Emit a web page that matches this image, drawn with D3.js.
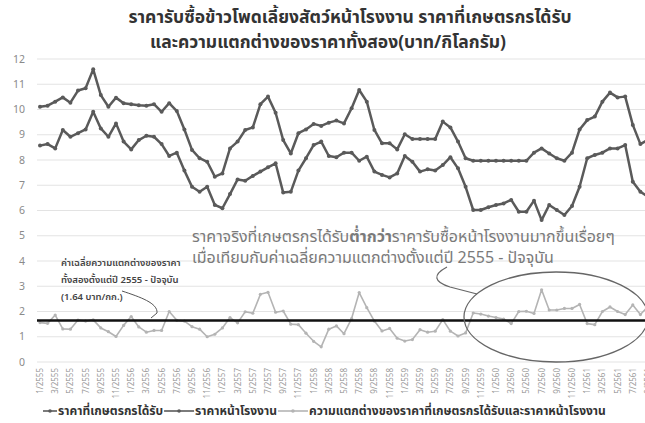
<!DOCTYPE html>
<html>
<head>
<meta charset="utf-8">
<script src="https://cdn.jsdelivr.net/npm/d3@7/dist/d3.min.js"></script>
<style>
  body { margin: 0; background: #fff; }
  svg { display: block; font-family: "Noto Sans Thai", "Noto Sans", "DejaVu Sans", sans-serif; }
  .grid line { stroke: #e3e3e3; stroke-width: 1; }
  .y-label { fill: #8a8a8a; font-size: 10.5px; }
  .x-label { fill: #9a9a9a; font-size: 8px; }
  .title { fill: #333; font-size: 17.5px; font-weight: bold; }
  .legend { fill: #333; font-size: 12px; font-weight: bold; }
  .note-small { fill: #444; font-size: 9.5px; font-weight: 600; }
  .note-big { fill: #7a7a7a; font-size: 16px; }
</style>
</head>
<body>
<svg id="chart" width="645" height="423"></svg>
<script>
// Monthly categories, 1/2555 .. 9/2561
const months = [
  '1/2555','2/2555','3/2555','4/2555','5/2555','6/2555','7/2555','8/2555','9/2555','10/2555','11/2555','12/2555',
  '1/2556','2/2556','3/2556','4/2556','5/2556','6/2556','7/2556','8/2556','9/2556','10/2556','11/2556','12/2556',
  '1/2557','2/2557','3/2557','4/2557','5/2557','6/2557','7/2557','8/2557','9/2557','10/2557','11/2557','12/2557',
  '1/2558','2/2558','3/2558','4/2558','5/2558','6/2558','7/2558','8/2558','9/2558','10/2558','11/2558','12/2558',
  '1/2559','2/2559','3/2559','4/2559','5/2559','6/2559','7/2559','8/2559','9/2559','10/2559','11/2559','12/2559',
  '1/2560','2/2560','3/2560','4/2560','5/2560','6/2560','7/2560','8/2560','9/2560','10/2560','11/2560','12/2560',
  '1/2561','2/2561','3/2561','4/2561','5/2561','6/2561','7/2561','8/2561','9/2561'
];

// ราคาหน้าโรงงาน (factory price)
const factoryPrice = [
  10.11,10.15,10.31,10.48,10.27,10.75,10.84,11.59,10.57,10.11,10.47,10.25,
  10.21,10.17,10.15,10.21,9.91,10.25,9.94,9.21,8.40,8.07,7.93,7.34,
  7.47,8.46,8.73,9.19,9.29,10.21,10.51,9.87,8.79,8.26,9.06,9.21,
  9.43,9.35,9.48,9.56,9.45,10.05,10.77,10.31,9.19,8.66,8.66,8.42,
  9.02,8.83,8.83,8.83,8.83,9.52,9.29,8.73,8.07,7.97,7.97,7.97,
  7.97,7.97,7.97,7.97,7.97,8.29,8.46,8.26,8.07,7.97,8.29,9.21,
  9.58,9.72,10.31,10.67,10.48,10.51,9.39,8.63,8.80
];

// ราคาที่เกษตรกรได้รับ (farm-gate price)
const farmPrice = [
  8.57,8.63,8.46,9.19,8.92,9.06,9.21,9.91,9.25,8.92,9.45,8.73,
  8.42,8.79,8.96,8.92,8.63,8.16,8.29,7.58,6.94,6.74,6.94,6.22,
  6.09,6.65,7.23,7.18,7.37,7.54,7.71,7.87,6.71,6.74,7.58,8.07,
  8.59,8.73,8.16,8.11,8.29,8.29,7.97,8.13,7.54,7.41,7.31,7.47,
  8.16,7.93,7.54,7.63,7.58,7.80,8.11,7.67,6.94,6.02,6.02,6.13,
  6.22,6.28,6.42,5.95,5.95,6.39,5.62,6.22,6.02,5.82,6.18,6.94,
  8.07,8.20,8.29,8.46,8.46,8.59,7.14,6.74,6.55
];

// ความแตกต่าง (gap between the two prices)
const priceGap = [
  1.56,1.53,1.86,1.31,1.30,1.66,1.62,1.67,1.35,1.20,1.01,1.45,
  1.80,1.39,1.18,1.25,1.25,2.00,1.65,1.62,1.40,1.30,1.00,1.10,
  1.35,1.76,1.55,1.99,1.93,2.68,2.76,1.97,2.02,1.50,1.48,1.14,
  0.82,0.60,1.30,1.43,1.12,1.72,2.75,2.15,1.62,1.23,1.33,0.94,
  0.83,0.89,1.28,1.18,1.22,1.68,1.22,1.03,1.15,1.94,1.90,1.82,
  1.76,1.70,1.52,2.00,2.01,1.92,2.86,2.06,2.06,2.12,2.12,2.28,
  1.52,1.48,2.00,2.18,2.00,1.88,2.26,1.88,2.20
];

const gapMean = 1.64;
const yTicks = [0,1,2,3,4,5,6,7,8,9,10,11,12];

const titleLines = [
  'ราคารับซื้อข้าวโพดเลี้ยงสัตว์หน้าโรงงาน ราคาที่เกษตรกรได้รับ',
  'และความแตกต่างของราคาทั้งสอง(บาท/กิโลกรัม)'
];
const meanNote = ['ค่าเฉลี่ยความแตกต่างของราคา', 'ทั้งสองตั้งแต่ปี 2555 - ปัจจุบัน', '(1.64 บาท/กก.)'];
const bigNote = [
  ['ราคาจริงที่เกษตรกรได้รับ', 'ต่ำกว่า', 'ราคารับซื้อหน้าโรงงานมากขึ้นเรื่อยๆ'],
  ['เมื่อเทียบกับค่าเฉลี่ยความแตกต่างตั้งแต่ปี 2555 - ปัจจุบัน']
];
const legendNames = ['ราคาที่เกษตรกรได้รับ', 'ราคาหน้าโรงงาน', 'ความแตกต่างของราคาที่เกษตรกรได้รับและราคาหน้าโรงงาน'];

const chart = d3.select('#chart');
const width = +chart.attr('width');

const x = d3.scalePoint().domain(months).range([40, 648]);
const y = d3.scaleLinear().domain([0, 12]).range([362, 59]);

// title
chart.append('g').selectAll('text').data(titleLines).join('text')
  .attr('class', 'title')
  .attr('x', (d, i) => i ? 328 : 350).attr('y', (d, i) => 23 + i * 25)
  .attr('text-anchor', 'middle')
  .text(d => d);

// gridlines + y labels
const grid = chart.append('g').attr('class', 'grid');
grid.selectAll('line').data(yTicks).join('line')
  .attr('x1', 37).attr('x2', width)
  .attr('y1', d => y(d)).attr('y2', d => y(d));
chart.append('g').selectAll('text').data(yTicks).join('text')
  .attr('class', 'y-label')
  .attr('x', 25).attr('y', d => y(d)).attr('dy', '0.35em')
  .attr('text-anchor', 'end')
  .text(d => d);

// x labels, every other month, rotated
chart.append('g').selectAll('text').data(months.filter((d, i) => i % 2 === 0)).join('text')
  .attr('class', 'x-label')
  .attr('transform', d => `translate(${x(d) + 3},368) rotate(-90)`)
  .attr('text-anchor', 'end')
  .text(d => d);

const plot = chart.append('g');

function drawSeries(values, color, strokeWidth, r) {
  const line = d3.line().x((d, i) => x(months[i])).y(d => y(d));
  plot.append('path')
    .attr('d', line(values))
    .attr('fill', 'none')
    .attr('stroke', color)
    .attr('stroke-width', strokeWidth)
    .attr('stroke-linejoin', 'round');
  plot.append('g').selectAll('circle').data(values).join('circle')
    .attr('cx', (d, i) => x(months[i]))
    .attr('cy', d => y(d))
    .attr('r', r)
    .attr('fill', color);
}

drawSeries(priceGap, '#b4b4b4', 1.6, 1.6);
drawSeries(factoryPrice, '#5a5a5a', 2.5, 2);
drawSeries(farmPrice, '#5a5a5a', 2.5, 2);

// mean gap line
plot.append('line')
  .attr('x1', 37).attr('x2', width)
  .attr('y1', y(gapMean)).attr('y2', y(gapMean))
  .attr('stroke', '#111').attr('stroke-width', 2.5);

// small note with callout tail
chart.append('g').selectAll('text').data(meanNote).join('text')
  .attr('class', 'note-small')
  .attr('x', 61).attr('y', (d, i) => 266 + i * 17)
  .text(d => d);
chart.append('path')
  .attr('d', 'M122,291 C140,297 158,303 157,313 L151,318')
  .attr('fill', 'none').attr('stroke', '#555').attr('stroke-width', 1);

// big note: each line is a run of pieces, the middle one of the first line bold
bigNote.forEach((pieces, row) => {
  let tx = 192;
  pieces.forEach((piece, k) => {
    const t = chart.append('text').attr('class', 'note-big')
      .attr('x', tx).attr('y', 242 + row * 21)
      .text(piece);
    if (row === 0 && k === 1) t.attr('font-weight', 'bold').attr('fill', '#666');
    tx += t.node().getComputedTextLength();
  });
});

// ellipse + connector
plot.append('ellipse')
  .attr('cx', 556).attr('cy', 317).attr('rx', 92).attr('ry', 45)
  .attr('fill', 'none').attr('stroke', '#666').attr('stroke-width', 1.3);
chart.append('path')
  .attr('d', 'M447,267 C432,275 434,282 450,287 L477,294')
  .attr('fill', 'none').attr('stroke', '#666').attr('stroke-width', 1.2);

// legend
const legendColors = ['#5a5a5a', '#5a5a5a', '#b4b4b4'];
const legend = chart.append('g');
let lx = 43;
legendNames.forEach((name, i) => {
  const len = i ? 30 : 14;
  legend.append('line')
    .attr('x1', lx).attr('x2', lx + len).attr('y1', 411).attr('y2', 411)
    .attr('stroke', legendColors[i]).attr('stroke-width', 1.6);
  legend.append('circle').attr('cx', lx + len / 2).attr('cy', 411).attr('r', 1.8).attr('fill', legendColors[i]);
  const t = legend.append('text').attr('class', 'legend')
    .attr('x', lx + len + 1).attr('y', 415).text(name);
  lx += len + 1 + t.node().getComputedTextLength() + 1;
});
</script>
</body>
</html>
